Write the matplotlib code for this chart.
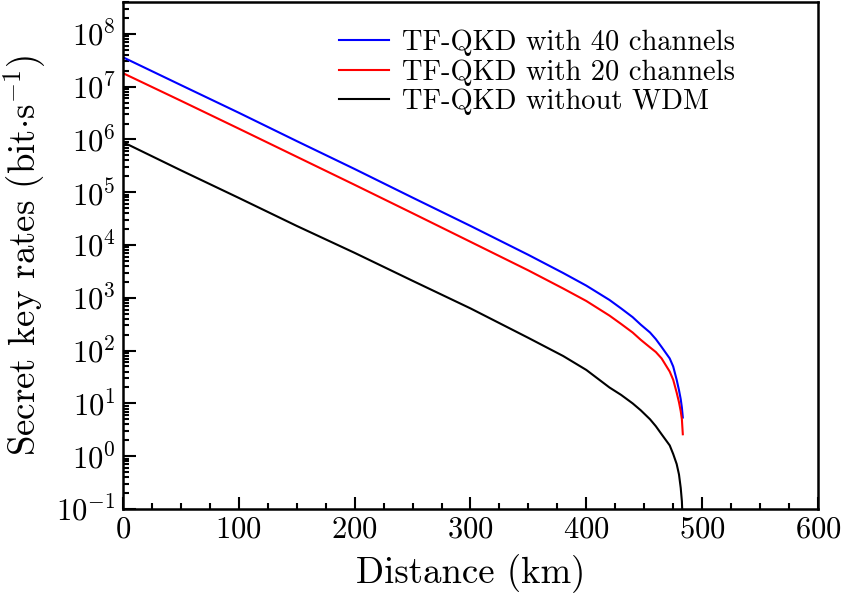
import numpy as np
import matplotlib
matplotlib.use("Agg")
import matplotlib.pyplot as plt
from matplotlib.ticker import LogLocator, MultipleLocator

# ---- data --------------------------------------------------------------
distance = [0, 50, 100, 150, 200, 250, 300, 350, 380, 400, 420, 430, 440,
            447, 455, 460, 465, 472, 475, 478, 480, 481.5, 482.5, 483.3]
rate_40ch = [3.6e7, 1.07e7, 3.2e6, 9.3e5, 2.75e5, 7.9e4, 2.3e4, 6.5e3, 2.95e3,
             1.7e3, 9.1e2, 6.3e2, 4.3e2, 3.1e2, 2.2e2, 1.65e2, 1.17e2, 71, 50,
             28, 17.8, 12, 8.3, 5.4]
rate_20ch = [1.8e7, 5.4e6, 1.6e6, 4.7e5, 1.38e5, 4.0e4, 1.15e4, 3.3e3, 1.5e3,
             8.7e2, 4.6e2, 3.2e2, 2.2e2, 1.6e2, 1.15e2, 94, 71, 40, 28, 16,
             10.5, 7.1, 5.0, 2.6]
rate_nowdm = [8.9e5, 2.6e5, 7.8e4, 2.3e4, 7.1e3, 2.1e3, 630, 174, 79,
              43, 20, 14.5, 10, 7.4, 5.0, 3.7, 2.6, 1.6, 1.1, 0.71, 0.45,
              0.25, 0.14, 0.05]

labels = ["TF-QKD with 40 channels", "TF-QKD with 20 channels",
          "TF-QKD without WDM"]
colors = ["#0000ff", "#ff0000", "#000000"]

# ---- style --------------------------------------------------------------
plt.rcParams["font.family"] = "serif"
plt.rcParams["font.serif"] = ["cmr10"]
plt.rcParams["mathtext.fontset"] = "cm"
plt.rcParams["axes.formatter.use_mathtext"] = True

fig = plt.figure(figsize=(8.42, 5.96), dpi=100)
ax = fig.add_axes([0.146, 0.146, 0.8255, 0.8506])

for y, lab, c in zip([rate_40ch, rate_20ch, rate_nowdm], labels, colors):
    ax.plot(distance, y, color=c, lw=1.5, label=lab)

ax.set_yscale("log")
ax.set_xlim(0, 600)
ax.set_ylim(0.1, 4e8)
ax.xaxis.set_major_locator(MultipleLocator(100))
ax.xaxis.set_minor_locator(MultipleLocator(25))
ax.yaxis.set_major_locator(LogLocator(base=10, numticks=20))
ax.yaxis.set_minor_locator(LogLocator(base=10, subs=np.arange(2, 10), numticks=20))

ax.tick_params(which="both", direction="in", top=False, right=False,
               labelsize=22, width=1.5)
ax.tick_params(which="major", length=9, pad=5)
ax.tick_params(which="minor", length=4.5)
for s in ax.spines.values():
    s.set_linewidth(1.8)

ax.set_xlabel("Distance (km)", fontsize=26.5, labelpad=8)
ax.set_ylabel(r"Secret key rates (bit$\cdot$s$^{-1}$)", fontsize=26.5, labelpad=6)

ax.legend(loc="upper left", bbox_to_anchor=(0.311, 0.945), frameon=False,
          fontsize=20.5, handlelength=1.75, handletextpad=0.45,
          labelspacing=0.1, borderpad=0, borderaxespad=0)

fig.savefig("out.png", dpi=100)
